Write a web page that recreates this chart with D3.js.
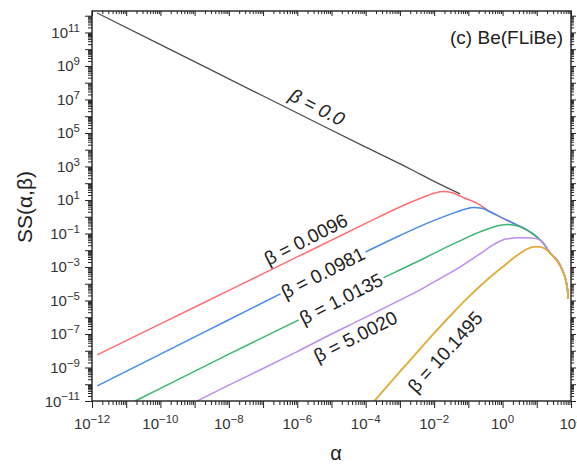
<!DOCTYPE html>
<html>
<head>
<meta charset="utf-8">
<script src="https://cdn.jsdelivr.net/npm/d3@7"></script>
<style>
body{margin:0;background:#fff;}
svg text{font-family:"Liberation Sans",Arial,sans-serif;}
</style>
</head>
<body>
<div class="visHolder"></div>
<script>
// values are log10 exponents: [log10(alpha), log10(SS)]
const betaLabels=["0.0","0.0096","0.0981","1.0135","5.0020","10.1495"];
const beta0=[[-11.85,12.16],[-10,10.27],[-8,8.23],[-6,6.19],[-4,4.15],[-2.7,2.85],[-2,2.11],[-1.24,1.36]];
const beta1=[[-11.85,-8.25],[-10,-6.4],[-8,-4.4],[-6,-2.4],[-4,-0.4],[-3,0.58],[-2.4,1.1],[-2.0,1.4],[-1.75,1.5],[-1.45,1.42],[-1.15,1.15],[-0.74,0.8],[-0.36,0.3],[0,-0.08],[0.43,-0.5],[0.72,-0.8],[1.0,-1.2],[1.2,-1.6],[1.4,-2.2],[1.6,-2.6],[1.75,-3.2],[1.85,-3.8],[1.9,-4.4],[1.92,-4.9]];
const beta2=[[-11.85,-10.1],[-10,-8.2],[-8,-6.15],[-6,-4.1],[-4,-2.1],[-3,-1.12],[-2.5,-0.65],[-2,-0.22],[-1.5,0.17],[-1.1,0.45],[-0.85,0.55],[-0.6,0.5],[-0.36,0.28],[0,-0.08],[0.43,-0.5],[0.72,-0.8],[1.0,-1.2],[1.2,-1.6],[1.4,-2.2],[1.6,-2.6],[1.75,-3.2],[1.85,-3.8],[1.9,-4.4],[1.92,-4.9]];
const beta3=[[-10.74,-11],[-10,-10.25],[-8,-8.2],[-6,-6.2],[-4,-4.15],[-2.41,-2.6],[-1.5,-1.68],[-1.0,-1.2],[-0.5,-0.78],[-0.1,-0.52],[0.15,-0.46],[0.45,-0.55],[0.72,-0.8],[1.0,-1.2],[1.2,-1.6],[1.4,-2.2],[1.6,-2.6],[1.75,-3.2],[1.85,-3.8],[1.9,-4.4],[1.92,-4.9]];
const beta4=[[-8.93,-11],[-8,-10.05],[-7.09,-9.15],[-6,-8.05],[-5,-7.0],[-4.16,-6.16],[-3,-4.98],[-2.4,-4.35],[-1.82,-3.68],[-1.2,-2.95],[-0.65,-2.2],[-0.25,-1.65],[0.1,-1.33],[0.5,-1.26],[0.85,-1.27],[1.05,-1.35],[1.2,-1.6],[1.4,-2.2],[1.6,-2.6],[1.75,-3.2],[1.85,-3.8],[1.9,-4.4],[1.92,-4.9]];
const beta5=[[-3.75,-11],[-3,-9.25],[-2.5,-8.1],[-2,-6.95],[-1.5,-5.85],[-1.0,-4.8],[-0.5,-3.85],[0,-3.0],[0.4,-2.35],[0.7,-1.95],[0.9,-1.8],[1.1,-1.8],[1.3,-2.0],[1.45,-2.3],[1.6,-2.65],[1.75,-3.2],[1.85,-3.8],[1.9,-4.4],[1.92,-4.9]];
const series=[beta0,beta1,beta2,beta3,beta4,beta5];
// label anchor points, same log10 units
const labelAt=[[-5.42,6.55],[-5.75,-1.35],[-5.25,-3.35],[-4.72,-4.9],[-4.3,-7.15],[-1.68,-8.07]];
const inlineLabel=[false,false,true,true,false,false];
const xTickExps=[-12,-10,-8,-6,-4,-2,0,2];
const yTickExps=[-11,-9,-7,-5,-3,-1,1,3,5,7,9,11];

const colors=["#4d4d4d","#ff6e6e","#4a8aec","#3cb575","#bf8cf0","#e2ad3c"];
const widths=[1.3,1.5,1.5,1.5,1.5,1.9];
const angles=[27,-27,-27,-27,-27,-48];

const W=577,H=464,pL=92,pR=571,pT=11,pB=401;
const svg=d3.select(".visHolder").append("svg").attr("width",W).attr("height",H);

const x=d3.scaleLog().domain([1e-12,1e2]).range([pL,pR]);
const y=d3.scaleLog().domain([1e-11,Math.pow(10,12.28)]).range([pB,pT]);

const majX=d3.range(-12,3).map(e=>Math.pow(10,e));
const minX=[];d3.range(-12,2).forEach(e=>{for(let m=2;m<10;m++)minX.push(m*Math.pow(10,e));});
const majY=d3.range(-11,13).map(e=>Math.pow(10,e));
const minY=[];d3.range(-11,13).forEach(e=>{for(let m=2;m<10;m++){const v=m*Math.pow(10,e);if(v<=y.domain()[1])minY.push(v);}});

function styleAxis(g){
  g.select(".domain").remove();
  g.selectAll("line").attr("stroke","#222").attr("stroke-width",1);
}
// bottom
svg.append("g").attr("transform","translate(0,"+pB+")").call(d3.axisBottom(x).tickValues(minX).tickSize(4).tickFormat("")).call(styleAxis);
svg.append("g").attr("transform","translate(0,"+pB+")").call(d3.axisBottom(x).tickValues(majX).tickSize(7).tickFormat("")).call(styleAxis);
// top (inward)
svg.append("g").attr("transform","translate(0,"+pT+")").call(d3.axisBottom(x).tickValues(minX).tickSize(3).tickFormat("")).call(styleAxis);
svg.append("g").attr("transform","translate(0,"+pT+")").call(d3.axisBottom(x).tickValues(majX).tickSize(5).tickFormat("")).call(styleAxis);
// left
svg.append("g").attr("transform","translate("+pL+",0)").call(d3.axisLeft(y).tickValues(minY).tickSize(4).tickFormat("")).call(styleAxis);
svg.append("g").attr("transform","translate("+pL+",0)").call(d3.axisLeft(y).tickValues(majY).tickSize(7).tickFormat("")).call(styleAxis);
// right
svg.append("g").attr("transform","translate("+pR+",0)").call(d3.axisRight(y).tickValues(minY).tickSize(3).tickFormat("")).call(styleAxis);
svg.append("g").attr("transform","translate("+pR+",0)").call(d3.axisRight(y).tickValues(majY).tickSize(5).tickFormat("")).call(styleAxis);

function expText(e){return e<0?"\u2212"+Math.abs(e):String(e);}
function powLabel(sel,e){
  sel.append("tspan").text("10");
  sel.append("tspan").attr("dy","-0.55em").attr("font-size","11.5px").text(expText(e));
}
xTickExps.forEach(e=>{
  svg.append("text").attr("x",x(Math.pow(10,e))).attr("y",pB+28)
    .attr("text-anchor","middle").attr("font-size","15px").attr("fill","#333")
    .call(powLabel,e);
});
yTickExps.forEach(e=>{
  svg.append("text").attr("x",pL-12).attr("y",y(Math.pow(10,e))+5.5)
    .attr("text-anchor","end").attr("font-size","15px").attr("fill","#333")
    .call(powLabel,e);
});

// curves
svg.append("clipPath").attr("id","plot").append("rect")
  .attr("x",pL).attr("y",pT).attr("width",pR-pL).attr("height",pB-pT);
const line=d3.line().x(d=>x(Math.pow(10,d[0]))).y(d=>y(Math.pow(10,d[1]))).curve(d3.curveMonotoneX);
const curves=svg.append("g").attr("clip-path","url(#plot)");
series.forEach((s,i)=>{
  curves.append("path").attr("d",line(s)).attr("fill","none")
    .attr("stroke",colors[i]).attr("stroke-width",widths[i]);
});

// curve labels (inline ones knock the line out behind them)
labelAt.forEach((p,i)=>{
  const px=x(Math.pow(10,p[0])),py=y(Math.pow(10,p[1]));
  const g=svg.append("g").attr("transform","translate("+px+","+py+") rotate("+angles[i]+")");
  const t=g.append("text").attr("text-anchor","middle").attr("dy","0.35em")
    .attr("font-size","19px").attr("fill","#222")
    .attr("font-style",i===0?"italic":"normal")
    .text("\u03b2 = "+betaLabels[i]);
  if(inlineLabel[i]){
    const b=t.node().getBBox();
    g.insert("rect","text").attr("x",b.x-2).attr("y",b.y+2).attr("width",b.width+4).attr("height",b.height-3).attr("fill","#fff");
  }
});

// frame
svg.append("rect").attr("x",pL).attr("y",pT).attr("width",pR-pL).attr("height",pB-pT)
  .attr("fill","none").attr("stroke","#222").attr("stroke-width",1.4);

svg.append("text").attr("x",563).attr("y",44).attr("text-anchor","end")
  .attr("font-size","19px").attr("fill","#222").text("(c) Be(FLiBe)");

svg.append("text").attr("transform","translate(25,207) rotate(-90)")
  .attr("text-anchor","middle").attr("dy","0.35em").attr("font-size","21px").attr("fill","#222")
  .text("SS(\u03b1,\u03b2)");

svg.append("text").attr("x",336).attr("y",460).attr("text-anchor","middle")
  .attr("font-size","20px").attr("fill","#222").attr("font-family","Liberation Serif,serif").text("\u03b1");
</script>
</body>
</html>
